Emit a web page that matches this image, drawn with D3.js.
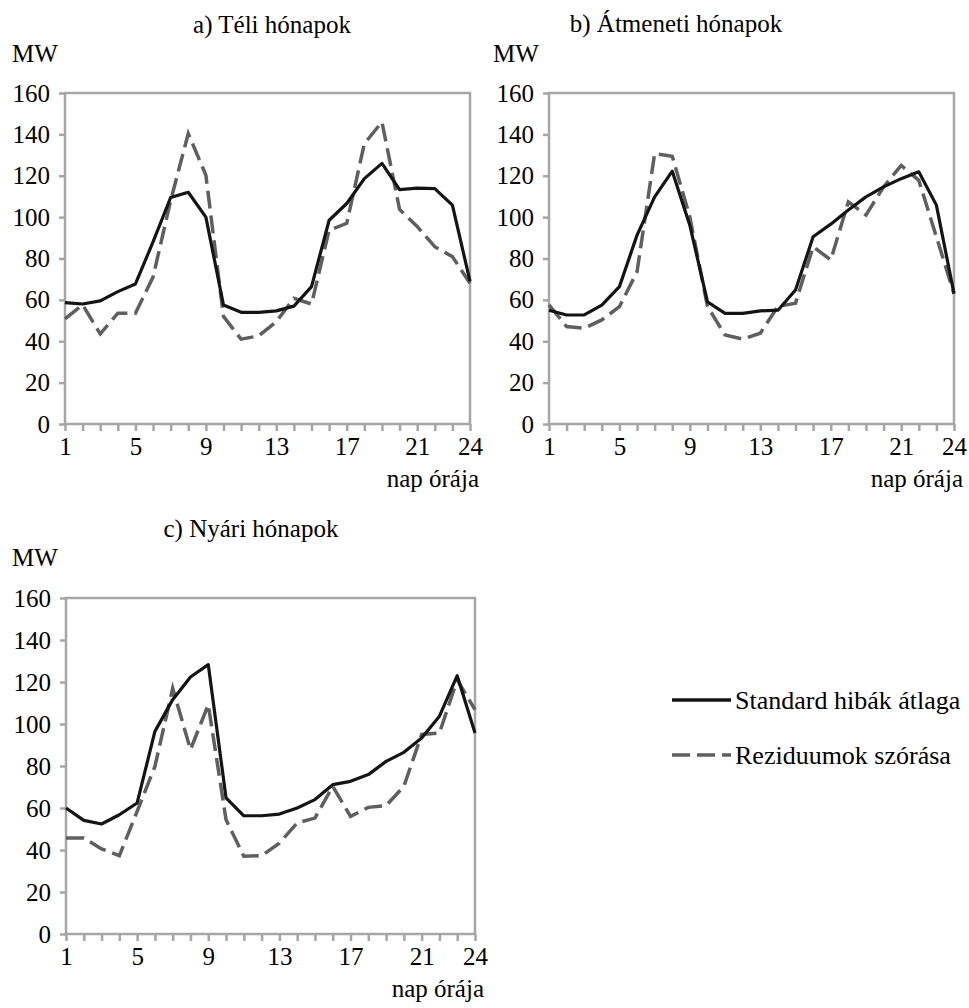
<!DOCTYPE html>
<html>
<head>
<meta charset="utf-8">
<script src="https://cdn.jsdelivr.net/npm/d3@7"></script>
<style>
  body { margin: 0; background: #fff; }
  svg { display: block; }
  svg text { font-family: "Liberation Serif", "Tinos", "Times New Roman", "Nimbus Roman", "DejaVu Serif", serif; }
</style>
</head>
<body>
<svg id="chart" width="969" height="1008"></svg>
<script>
// hours of the day
const hours = d3.range(1, 25);
const hourLabels = [1, 5, 9, 13, 17, 21, 24];
const yTicks = [0, 20, 40, 60, 80, 100, 120, 140, 160];

// a) winter months
const winterStd = [58.7, 58, 59.5, 64, 67.7, 88, 109.5, 112, 100, 57.5, 54, 54,
  54.7, 57, 66.4, 98.5, 106.6, 118.6, 126, 113.3, 114, 113.8, 105.8, 69];
const winterRes = [50.8, 57.6, 43.6, 53.5, 53.5, 71, 108, 140.4, 120.3, 52, 41, 42.6,
  49.5, 60.8, 58, 93.7, 97, 135.5, 146, 103.7, 95.5, 85.7, 80.9, 68];

// b) transitional months
const transStd = [55, 52.7, 52.7, 57.5, 66.4, 91.3, 109.8, 122.2, 96, 59, 53.5, 53.5,
  54.7, 55, 64.8, 90.5, 96.6, 103.4, 109.8, 114.6, 118.6, 121.9, 105.8, 63];
const transRes = [57.6, 47.1, 46.3, 50.3, 56.7, 73.6, 130.7, 129.4, 100, 56.8, 43, 41,
  43.9, 56.8, 58.4, 85.7, 79.3, 107.4, 101, 114.6, 125, 117.8, 90.5, 63];

// c) summer months
const summerStd = [60, 54.1, 52.4, 56.8, 62.4, 96.5, 111.6, 122.4, 128.3, 64.8, 56.3, 56.3,
  57.1, 60, 64, 71.1, 72.7, 75.9, 82.2, 86.5, 93.3, 103.7, 123, 95.7];
const summerRes = [45.7, 45.7, 40.5, 37.3, 58.4, 79.8, 117, 87.8, 109.2, 54.4, 37, 37.3,
  43.3, 52.9, 55.2, 70.3, 56, 60.3, 61.1, 70.3, 95, 95.7, 121, 106.8];

const seriesNames = ['Standard hibák átlaga', 'Reziduumok szórása'];

const svg = d3.select('#chart');
const fontSize = 25;
const axisColor = '#a6a6a6';
const stdColor = '#141414';
const resColor = '#5f5f5f';
const dash = '18,7';

const panels = [
  { title: 'a) Téli hónapok', titleX: 272, titleY: 33, mwX: 12, mwY: 62,
    left: 65, right: 470, top: 93, bottom: 424, std: winterStd, res: winterRes },
  { title: 'b) Átmeneti hónapok', titleX: 676, titleY: 32, mwX: 493, mwY: 62,
    left: 549, right: 954, top: 93, bottom: 424, std: transStd, res: transRes },
  { title: 'c) Nyári hónapok', titleX: 251, titleY: 537, mwX: 12, mwY: 566,
    left: 66, right: 475, top: 598, bottom: 934, std: summerStd, res: summerRes }
];

panels.forEach(p => drawPanel(p));

function drawPanel(p) {
  const x = d3.scaleLinear().domain([1, 24]).range([p.left, p.right]);
  const y = d3.scaleLinear().domain([0, 160]).range([p.bottom, p.top]);
  const g = svg.append('g');

  g.append('text')
    .attr('x', p.titleX).attr('y', p.titleY)
    .attr('text-anchor', 'middle')
    .style('font-size', fontSize + 'px')
    .text(p.title);

  g.append('text')
    .attr('x', p.mwX).attr('y', p.mwY)
    .style('font-size', fontSize + 'px')
    .text('MW');

  // plot area border
  g.append('rect')
    .attr('x', p.left).attr('y', p.top)
    .attr('width', p.right - p.left).attr('height', p.bottom - p.top)
    .attr('fill', 'none')
    .attr('stroke', axisColor)
    .attr('stroke-width', 2.5);

  const yAxis = d3.axisLeft(y).tickValues(yTicks).tickSize(6).tickPadding(9);
  g.append('g')
    .attr('transform', `translate(${p.left},0)`)
    .call(yAxis)
    .attr('font-family', null)
    .call(a => a.select('.domain').remove())
    .call(a => a.selectAll('line').attr('stroke', axisColor).attr('stroke-width', 2.5))
    .call(a => a.selectAll('text')
      .attr('fill', '#000')
      .style('font-size', fontSize + 'px'));

  const xAxis = d3.axisBottom(x).tickValues(hours).tickSize(7).tickPadding(6)
    .tickFormat(d => hourLabels.includes(d) ? d : '');
  g.append('g')
    .attr('transform', `translate(0,${p.bottom})`)
    .call(xAxis)
    .attr('font-family', null)
    .call(a => a.select('.domain').remove())
    .call(a => a.selectAll('line').attr('stroke', axisColor).attr('stroke-width', 2.5))
    .call(a => a.selectAll('text')
      .attr('fill', '#000')
      .style('font-size', fontSize + 'px'));

  g.append('text')
    .attr('x', p.right + 9).attr('y', p.bottom + 63)
    .attr('text-anchor', 'end')
    .style('font-size', fontSize + 'px')
    .text('nap órája');

  const line = d3.line().x((d, i) => x(hours[i])).y(d => y(d));

  g.append('path')
    .datum(p.res)
    .attr('d', line)
    .attr('fill', 'none')
    .attr('stroke', resColor)
    .attr('stroke-width', 3.5)
    .attr('stroke-dasharray', dash);

  g.append('path')
    .datum(p.std)
    .attr('d', line)
    .attr('fill', 'none')
    .attr('stroke', stdColor)
    .attr('stroke-width', 3.2)
    .attr('stroke-linejoin', 'round');
}

// legend
const legend = svg.append('g');
const legendItems = [
  { name: seriesNames[0], color: stdColor, dash: null, y: 700 },
  { name: seriesNames[1], color: resColor, dash: dash, y: 755 }
];
legendItems.forEach(d => {
  legend.append('line')
    .attr('x1', 672).attr('x2', 731)
    .attr('y1', d.y).attr('y2', d.y)
    .attr('stroke', d.color)
    .attr('stroke-width', 3.5)
    .attr('stroke-dasharray', d.dash);
  legend.append('text')
    .attr('x', 735).attr('y', d.y)
    .attr('dy', '0.35em')
    .style('font-size', '26px')
    .text(d.name);
});
</script>
</body>
</html>
